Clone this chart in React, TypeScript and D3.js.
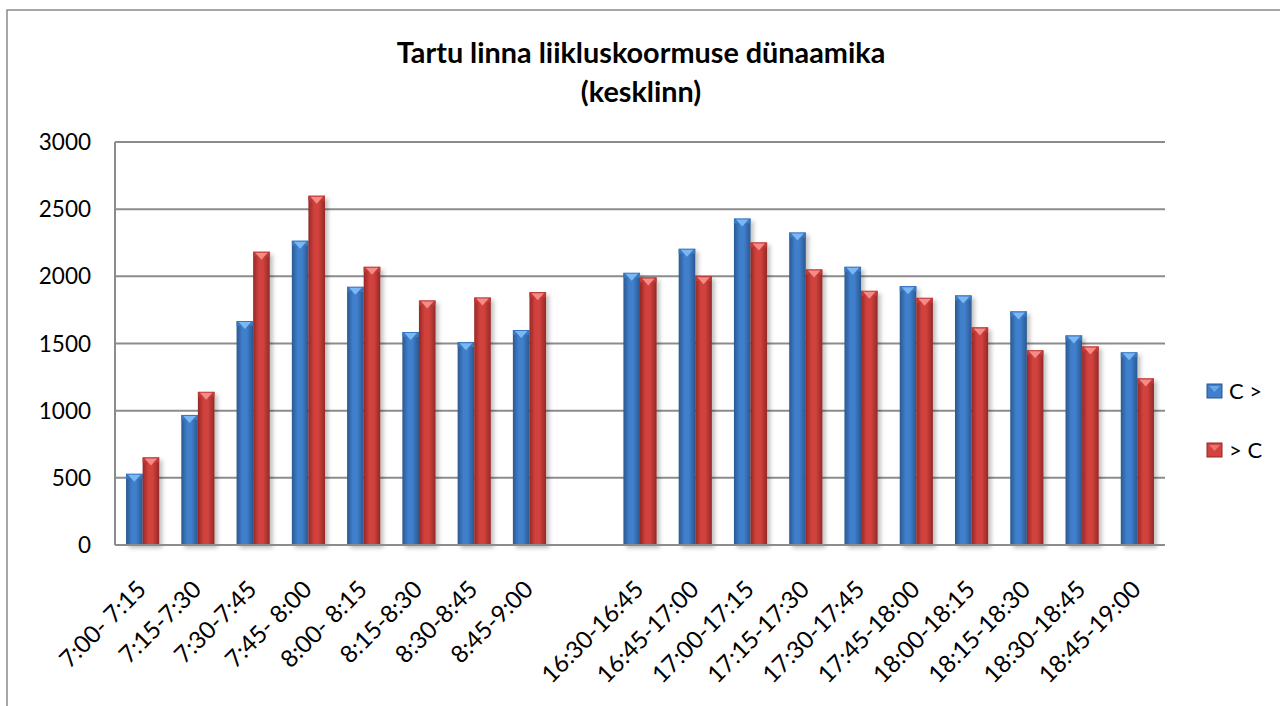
import React from "react";
import * as d3 from "d3";

// liikluskoormus, 15 min intervallid
const categories = [
  "7:00- 7:15", "7:15-7:30", "7:30-7:45", "7:45- 8:00", "8:00- 8:15", "8:15-8:30", "8:30-8:45", "8:45-9:00",
  "",
  "16:30-16:45", "16:45-17:00", "17:00-17:15", "17:15-17:30", "17:30-17:45", "17:45-18:00",
  "18:00-18:15", "18:15-18:30", "18:30-18:45", "18:45-19:00",
];
const seriesNames = ["C >", "> C"];
const toCenter: (number | null)[] = [530, 968, 1667, 2265, 1922, 1585, 1510, 1600, null, 2026, 2205, 2430, 2326, 2071, 1927, 1858, 1739, 1560, 1434];
const fromCenter: (number | null)[] = [652, 1140, 2183, 2600, 2071, 1820, 1842, 1882, null, 1992, 2001, 2252, 2051, 1892, 1840, 1620, 1449, 1478, 1240];
const yTicks = [0, 500, 1000, 1500, 2000, 2500, 3000];

const W = 1280, H = 706;
const margin = { left: 115, right: 115, top: 142, bottom: 161 };

const palettes = [
  { edge: "#2a5890", mid: "#3f7fcc", cap: "#7ab8f5", capDark: "#3a78c0" },
  { edge: "#952826", mid: "#d2423e", cap: "#f58a86", capDark: "#c03a36" },
];

export default function App() {
  const x = d3.scaleBand().domain(categories.map((c, i) => String(i))).range([margin.left, W - margin.right]);
  const y = d3.scaleLinear().domain([0, 3000]).range([H - margin.bottom, margin.top]);
  const bw = x.bandwidth() * 0.3;
  const data = [toCenter, fromCenter];

  return (
    <svg width={W} height={H} style={{ position: "absolute", left: 0, top: 0, background: "#fff" }}
      fontFamily="Lato, 'Open Sans', sans-serif">
      <defs>
        {palettes.map((p, i) => (
          <linearGradient key={i} id={"g" + i} x1="0" x2="1" y1="0" y2="0">
            <stop offset="0" stopColor={p.edge} />
            <stop offset="0.35" stopColor={p.mid} />
            <stop offset="0.6" stopColor={p.mid} />
            <stop offset="1" stopColor={p.edge} />
          </linearGradient>
        ))}
        <filter id="sh" x="-30%" y="-10%" width="160%" height="130%">
          <feDropShadow dx="3" dy="3" stdDeviation="2" floodColor="#000" floodOpacity="0.25" />
        </filter>
      </defs>
      <rect x={7} y={10} width={1300} height={720} fill="none" stroke="#8a8a8a" strokeWidth={1.5} />

      <text x={641} y={63} textAnchor="middle" fontWeight="bold" fontSize={28.8}>Tartu linna liikluskoormuse dünaamika</text>
      <text x={641} y={102} textAnchor="middle" fontWeight="bold" fontSize={28.8}>(kesklinn)</text>

      {yTicks.map((t) => (
        <g key={t}>
          <line x1={margin.left} x2={W - margin.right} y1={y(t)} y2={y(t)} stroke="#8c8c8c" strokeWidth={2} />
          <text x={91} y={y(t)} dy="0.36em" textAnchor="end" fontSize={22.5}>{t}</text>
        </g>
      ))}
      <line x1={margin.left} x2={margin.left} y1={margin.top} y2={y(0)} stroke="#8c8c8c" strokeWidth={2} />

      {data.map((vals, s) => (
        <g key={s} filter="url(#sh)">
          {vals.map((v, i) => {
            if (v == null) return null;
            const cx = (x(String(i)) as number) + x.bandwidth() / 2;
            const x0 = cx - bw + s * bw;
            const top = y(v);
            const p = palettes[s];
            const ch = 5;
            return (
              <g key={i}>
                <rect x={x0} y={top} width={bw} height={y(0) - top} fill={`url(#g${s})`} />
                <rect x={x0} y={top} width={bw} height={ch} fill={p.capDark} />
                <polygon points={`${x0 + 2},${top + 1} ${x0 + bw - 2},${top + 1} ${x0 + bw / 2},${top + ch + 3}`} fill={p.cap} />
              </g>
            );
          })}
        </g>
      ))}
      <line x1={margin.left} x2={W - margin.right} y1={y(0)} y2={y(0)} stroke="#8c8c8c" strokeWidth={2} />

      {categories.map((c, i) => {
        const cx = (x(String(i)) as number) + x.bandwidth() / 2 + 5;
        return (
          <text key={i} transform={`translate(${cx},${y(0) + 46}) rotate(-45)`} textAnchor="end" fontSize={24}>{c}</text>
        );
      })}

      {seriesNames.map((n, i) => (
        <g key={n} transform={`translate(1207,${384 + i * 59})`}>
          <rect width={15} height={14} fill={palettes[i].mid} stroke={palettes[i].edge} />
          <polygon points="2,2 13,2 7.5,8" fill={palettes[i].cap} opacity={0.7} />
          <text x={22} y={7} dy="0.36em" fontSize={22}>{n}</text>
        </g>
      ))}
    </svg>
  );
}
